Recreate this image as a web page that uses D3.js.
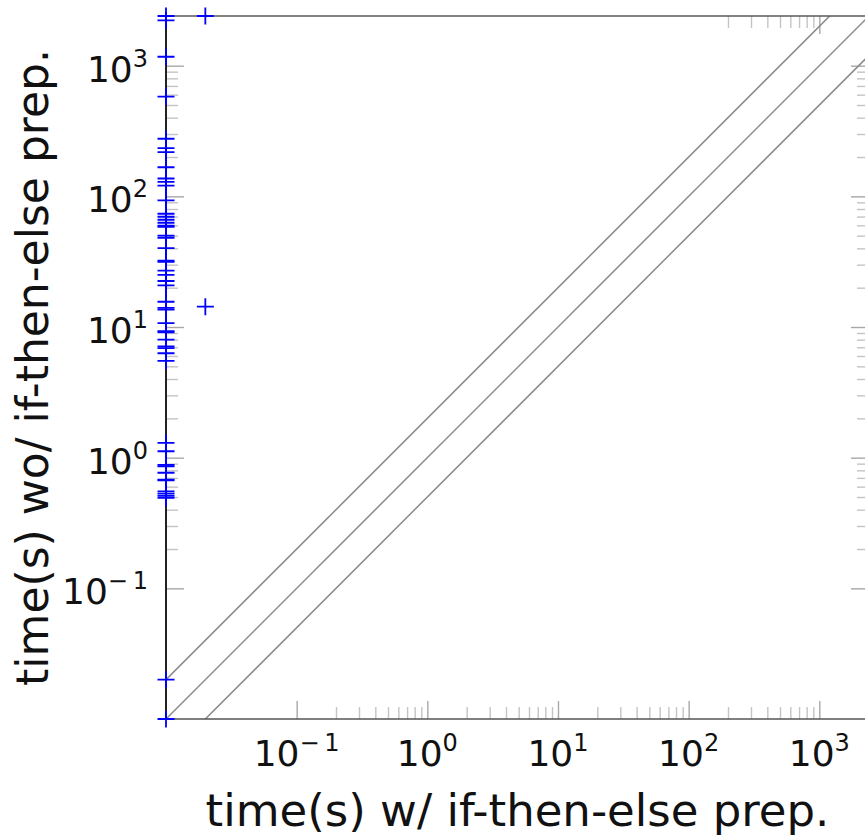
<!DOCTYPE html>
<html>
<head>
<meta charset="utf-8">
<script src="https://cdn.jsdelivr.net/npm/d3@7"></script>
<style>
  body { margin: 0; background: #fff; }
  svg { display: block; }
  text { font-family: "DejaVu Sans", Verdana, sans-serif; }
</style>
</head>
<body>
<svg id="chart" width="865" height="836"></svg>
<script>
// Axis titles
const xAxisTitle = "time(s) w/ if-then-else prep.";
const yAxisTitle = "time(s) wo/ if-then-else prep.";

// Shared log domain for both axes (seconds)
const axisMin = 0.01;
const axisMax = 2400;

// Labelled decades and their exponent text
const majorTicks = [0.1, 1, 10, 100, 1000];
const tickExponents = ["\u2212\u20091", "0", "1", "2", "3"];
// Minor ticks: multiples inside each labelled decade
const minorDecades = [0.1, 1, 10, 100];
const minorSteps = [2, 3, 4, 5, 6, 7, 8, 9];
// The top edge only carries ticks for the last decade
const topMinorTicks = [200, 300, 400, 500, 600, 700, 800, 900];
const topMajorTicks = [1000];

// Reference lines y = k * x
const ratioLines = [2, 1, 0.5];

// Runtime per instance: with preprocessing (x) and without (y)
const timeWith = [
  0.01, 0.01, 0.01, 0.01, 0.01, 0.01, 0.01, 0.01, 0.01, 0.01,
  0.01, 0.01, 0.01, 0.01, 0.01, 0.01, 0.01, 0.01, 0.01, 0.01,
  0.01, 0.01, 0.01, 0.01, 0.01, 0.01, 0.01, 0.01, 0.01, 0.01,
  0.01, 0.01, 0.01, 0.01, 0.01, 0.01, 0.01, 0.01, 0.01, 0.01,
  0.01, 0.01, 0.01, 0.01, 0.01, 0.01, 0.01, 0.01, 0.01, 0.01,
  0.01, 0.02, 0.02
];
const timeWithout = [
  2400, 2220, 1170, 580, 276, 234, 218, 167, 137, 129,
  121, 93, 73.6, 69.8, 66.2, 62.8, 59.6, 58.5, 50, 48.2,
  40.2, 32.2, 31.5, 27, 25.1, 22.5, 20.8, 15.6, 14, 13.6,
  10.7, 9.3, 9.1, 8.0, 7.1, 6.9, 6.3, 5.5, 1.30, 1.12,
  0.88, 0.86, 0.767, 0.68, 0.67, 0.552, 0.53, 0.51, 0.492, 0.02,
  0.01, 2400, 14.3
];

const plot = { left: 166, right: 869, top: 16, bottom: 719 };

const svg = d3.select("#chart");

const x = d3.scaleLog().domain([axisMin, axisMax]).range([plot.left, plot.right]);
const y = d3.scaleLog().domain([axisMin, axisMax]).range([plot.bottom, plot.top]);

const minorTicks = minorDecades.flatMap(d => minorSteps.map(s => +(d * s).toPrecision(3)));

svg.append("defs").append("clipPath").attr("id", "plot-clip")
  .append("rect")
  .attr("x", plot.left).attr("y", plot.top)
  .attr("width", plot.right - plot.left).attr("height", plot.bottom - plot.top);

// Inward ticks
function tickLayer(axisGen, transform, values, size, color) {
  const g = svg.append("g")
    .attr("transform", transform)
    .call(axisGen.tickValues(values).tickSize(size).tickFormat(""));
  g.select(".domain").remove();
  g.selectAll(".tick line").attr("stroke", color).attr("stroke-width", 1.4);
  return g;
}
const minorColor = "#c4c4c4", majorColor = "#a8a8a8";
[[minorTicks, 12, minorColor], [majorTicks, 18, majorColor]].forEach(([vals, size, color]) => {
  tickLayer(d3.axisRight(y), `translate(${plot.left},0)`, vals, size, color);
  tickLayer(d3.axisLeft(y), `translate(${plot.right},0)`, vals, size, color);
  tickLayer(d3.axisTop(x), `translate(0,${plot.bottom})`, vals, size, color);
});
tickLayer(d3.axisBottom(x), `translate(0,${plot.top})`, topMinorTicks, 12, minorColor);
tickLayer(d3.axisBottom(x), `translate(0,${plot.top})`, topMajorTicks, 18, majorColor);

// Ratio reference lines
const diag = svg.append("g").attr("clip-path", "url(#plot-clip)");
ratioLines.forEach(k => {
  diag.append("line")
    .attr("x1", x(axisMin / 10)).attr("y1", y(k * axisMin / 10))
    .attr("x2", x(axisMax * 10)).attr("y2", y(k * axisMax * 10))
    .attr("stroke", "#8a8a8a").attr("stroke-width", 1.5);
});

// Frame
svg.append("line").attr("x1", plot.left).attr("x2", plot.right)
  .attr("y1", plot.top).attr("y2", plot.top)
  .attr("stroke", "#5a5a5a").attr("stroke-width", 1.6);
svg.append("line").attr("x1", plot.left).attr("x2", plot.right)
  .attr("y1", plot.bottom).attr("y2", plot.bottom)
  .attr("stroke", "#555").attr("stroke-width", 1.6);
svg.append("line").attr("x1", plot.right).attr("x2", plot.right)
  .attr("y1", plot.top).attr("y2", plot.bottom)
  .attr("stroke", "#555").attr("stroke-width", 1.6);
svg.append("line").attr("x1", plot.left).attr("x2", plot.left)
  .attr("y1", plot.top).attr("y2", plot.bottom)
  .attr("stroke", "#222").attr("stroke-width", 2);

// Tick labels: 10 with a raised exponent
function powerLabel(sel, exp) {
  sel.append("tspan").text("10");
  sel.append("tspan").attr("dy", -15).attr("font-size", 24).text(exp);
}
majorTicks.forEach((v, i) => {
  svg.append("text")
    .attr("x", x(v)).attr("y", 766)
    .attr("text-anchor", "middle").attr("font-size", 36).attr("fill", "#111")
    .call(powerLabel, tickExponents[i]);
  svg.append("text")
    .attr("x", 148).attr("y", y(v) + 16)
    .attr("text-anchor", "end").attr("font-size", 36).attr("fill", "#111")
    .call(powerLabel, tickExponents[i]);
});

// Axis titles
svg.append("text")
  .attr("x", (plot.left + plot.right) / 2).attr("y", 826)
  .attr("text-anchor", "middle").attr("font-size", 45).attr("fill", "#111")
  .text(xAxisTitle);
svg.append("text")
  .attr("transform", `translate(48,${(plot.top + plot.bottom) / 2}) rotate(-90)`)
  .attr("text-anchor", "middle").attr("font-size", 44).attr("fill", "#111")
  .text(yAxisTitle);

// Instances as "+" markers
const pts = timeWith.map((t, i) => [t, timeWithout[i]]);
const h = 8.5;
svg.append("g").selectAll("path").data(pts).join("path")
  .attr("d", d => {
    const px = x(d[0]), py = y(d[1]);
    return `M${px - h},${py}H${px + h}M${px},${py - h}V${py + h}`;
  })
  .attr("fill", "none").attr("stroke", "#0000ff").attr("stroke-width", 1.8);
</script>
</body>
</html>
